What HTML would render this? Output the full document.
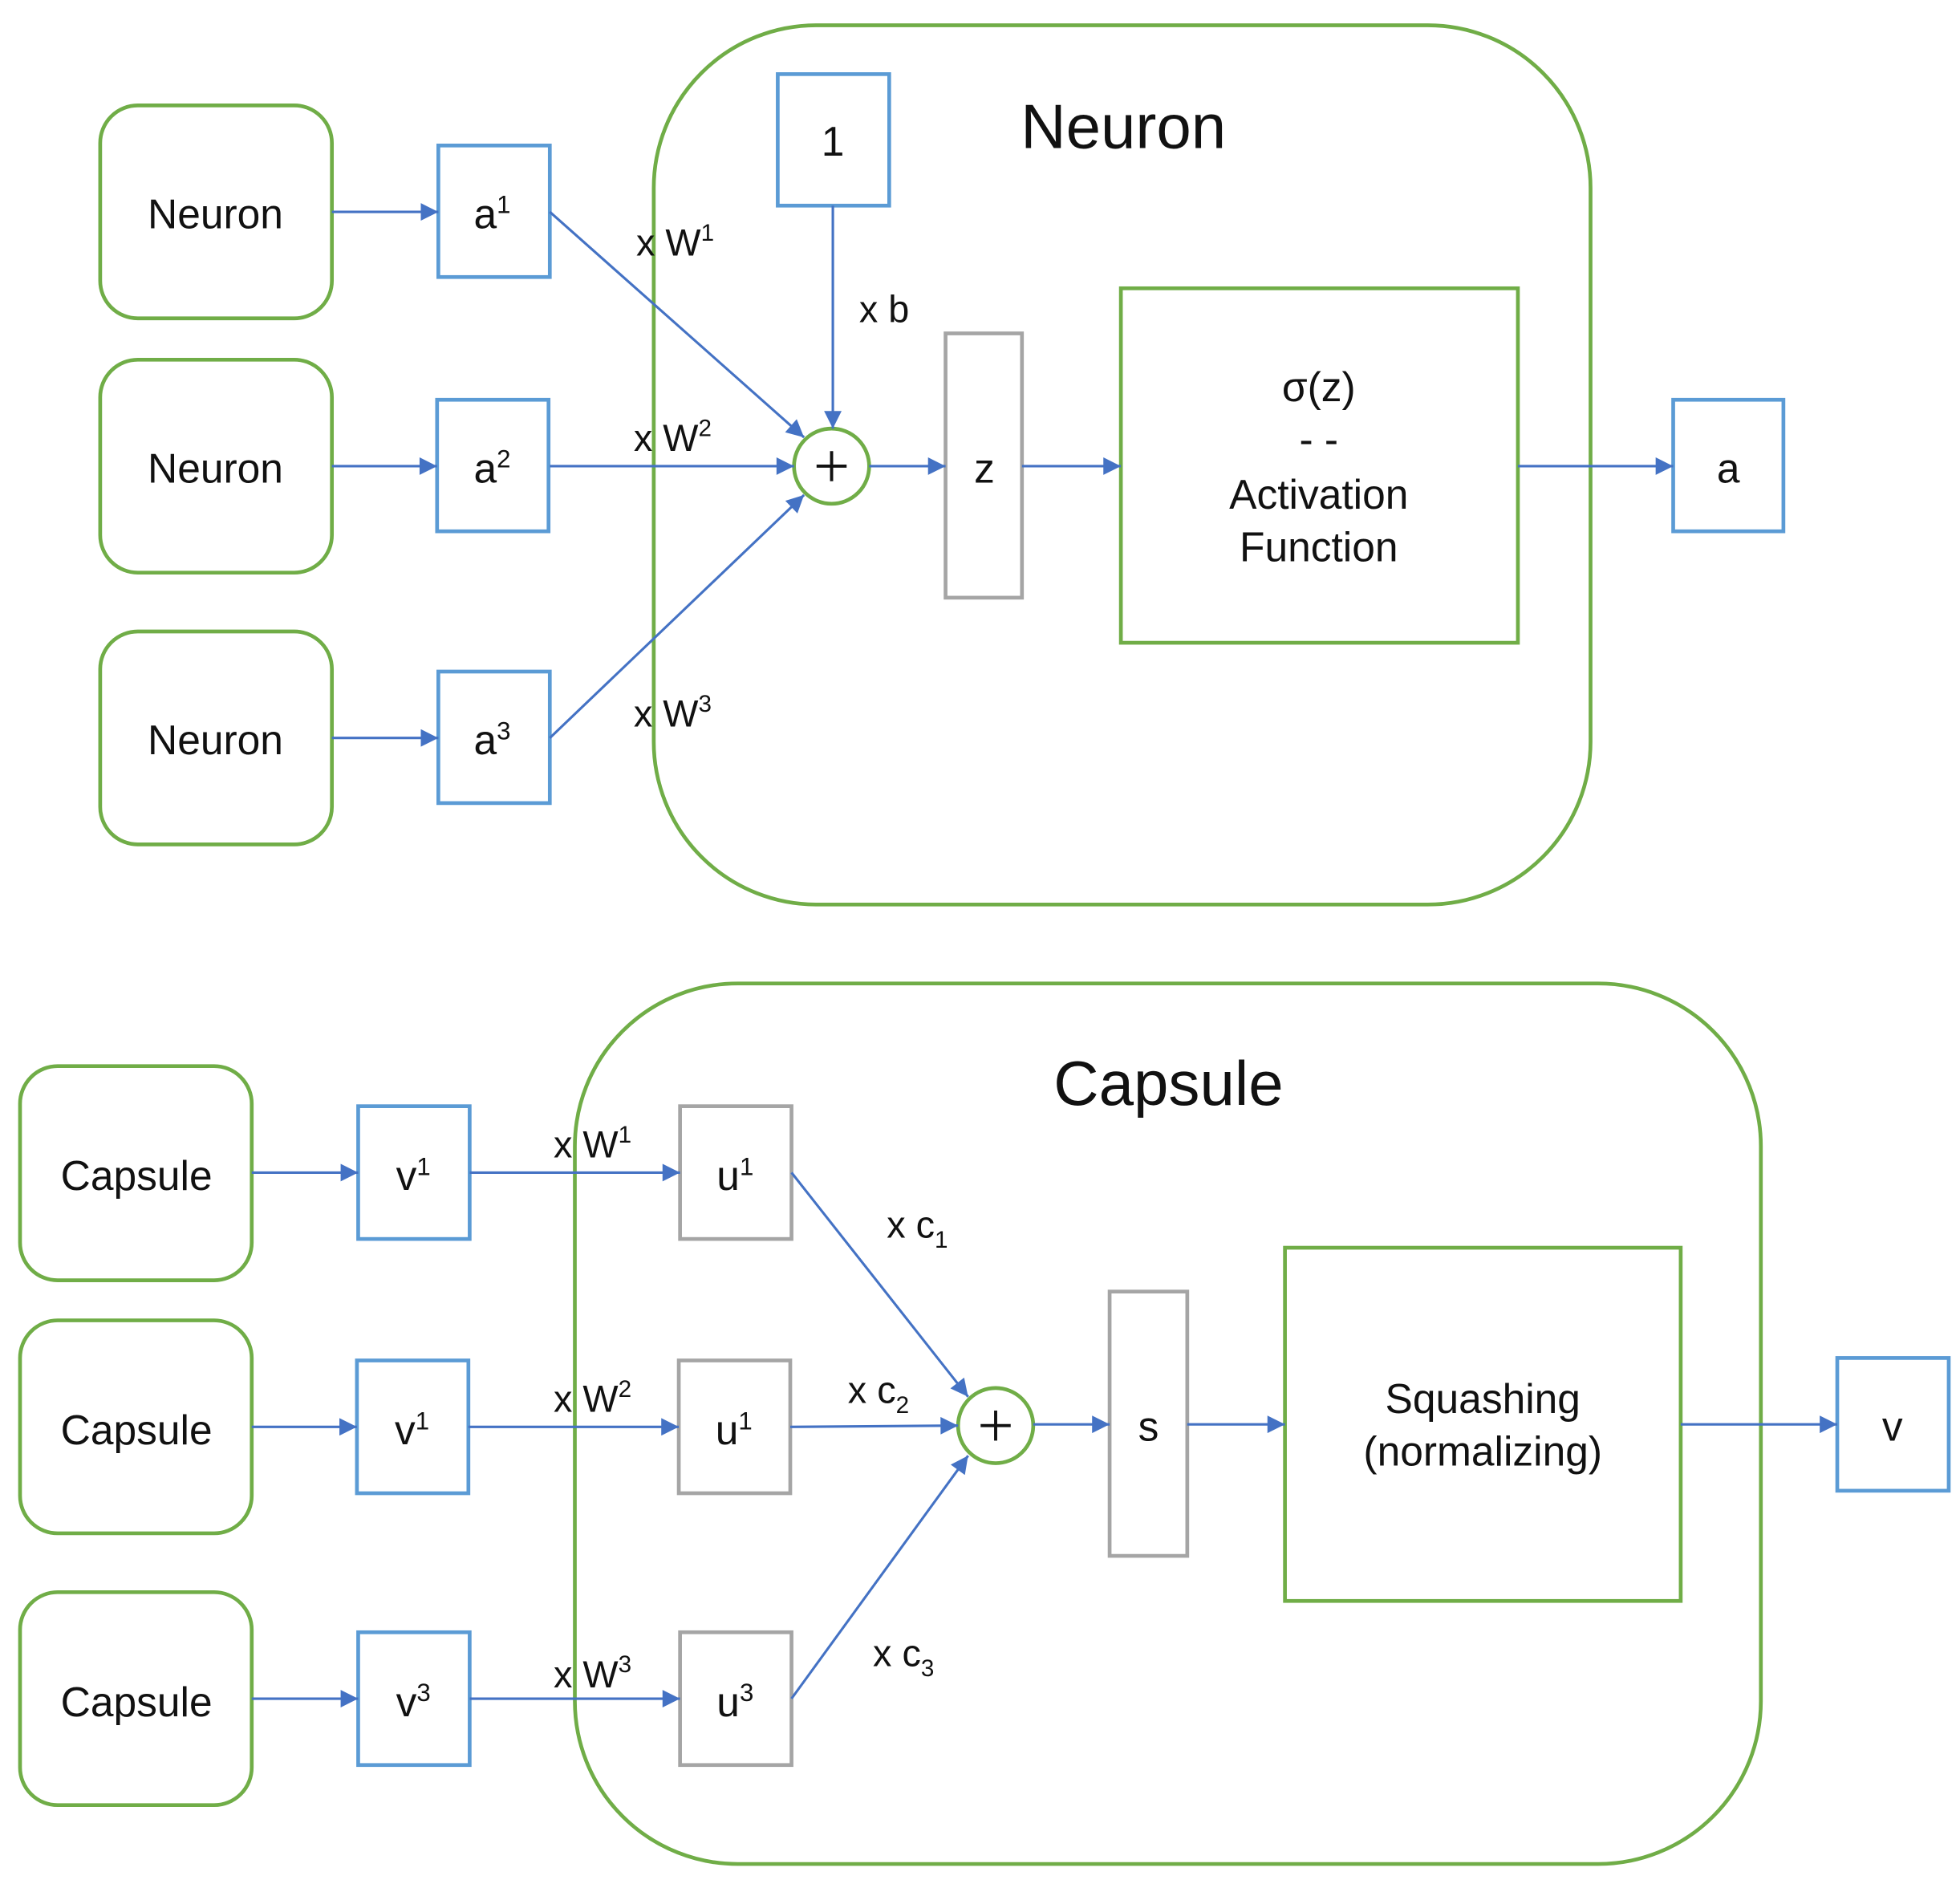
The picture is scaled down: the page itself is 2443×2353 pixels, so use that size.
<!DOCTYPE html>
<html><head><meta charset="utf-8"><style>
html,body{margin:0;padding:0;background:#fff;}
svg{display:block;}
text{font-family:"Liberation Sans","DejaVu Sans",sans-serif;fill:#111;}
</style></head><body>
<svg width="2443" height="2353" viewBox="0 0 1565 1507" xmlns="http://www.w3.org/2000/svg">
<defs>
<marker id="ar" markerWidth="10" markerHeight="10" refX="9" refY="5" orient="auto" markerUnits="userSpaceOnUse">
<path d="M0,0 L10,5 L0,10 z" fill="#4472C4"/></marker>
<marker id="arb" viewBox="0 0 10 10" markerWidth="18" markerHeight="14" refX="10" refY="5" orient="auto" markerUnits="userSpaceOnUse">
<path d="M0,0 L10,5 L0,10 z" fill="#4472C4"/></marker>
</defs>
<g fill="none" stroke-width="3">
<!-- top -->
<rect x="522" y="20" width="748" height="702" rx="130" stroke="#70AD47"/>
<rect x="80" y="84" width="185" height="170" rx="30" stroke="#70AD47"/>
<rect x="80" y="287" width="185" height="170" rx="30" stroke="#70AD47"/>
<rect x="80" y="504" width="185" height="170" rx="30" stroke="#70AD47"/>
<rect x="350" y="116" width="89" height="105" stroke="#5B9BD5"/>
<rect x="349" y="319" width="89" height="105" stroke="#5B9BD5"/>
<rect x="350" y="536" width="89" height="105" stroke="#5B9BD5"/>
<rect x="621" y="59" width="89" height="105" stroke="#5B9BD5"/>
<circle cx="664" cy="372" r="30" stroke="#70AD47"/>
<rect x="755" y="266" width="61" height="211" stroke="#A5A5A5"/>
<rect x="895" y="230" width="317" height="283" stroke="#70AD47"/>
<rect x="1336" y="319" width="88" height="105" stroke="#5B9BD5"/>
<!-- bottom -->
<rect x="459" y="785" width="947" height="703" rx="130" stroke="#70AD47"/>
<rect x="16" y="851" width="185" height="171" rx="30" stroke="#70AD47"/>
<rect x="16" y="1054" width="185" height="170" rx="30" stroke="#70AD47"/>
<rect x="16" y="1271" width="185" height="170" rx="30" stroke="#70AD47"/>
<rect x="286" y="883" width="89" height="106" stroke="#5B9BD5"/>
<rect x="285" y="1086" width="89" height="106" stroke="#5B9BD5"/>
<rect x="286" y="1303" width="89" height="106" stroke="#5B9BD5"/>
<rect x="543" y="883" width="89" height="106" stroke="#A5A5A5"/>
<rect x="542" y="1086" width="89" height="106" stroke="#A5A5A5"/>
<rect x="543" y="1303" width="89" height="106" stroke="#A5A5A5"/>
<circle cx="795" cy="1138" r="30" stroke="#70AD47"/>
<rect x="886" y="1031" width="62" height="211" stroke="#A5A5A5"/>
<rect x="1026" y="996" width="316" height="282" stroke="#70AD47"/>
<rect x="1467" y="1084" width="89" height="106" stroke="#5B9BD5"/>
</g>
<g stroke="#4472C4" stroke-width="2" fill="none" marker-end="url(#arb)">
<line x1="265" y1="169" x2="350" y2="169"/>
<line x1="265" y1="372" x2="349" y2="372"/>
<line x1="265" y1="589" x2="350" y2="589"/>
<line x1="439" y1="169" x2="642" y2="349"/>
<line x1="439" y1="372" x2="634" y2="372"/>
<line x1="439" y1="589" x2="642" y2="395"/>
<line x1="665" y1="164" x2="665" y2="342"/>
<line x1="694" y1="372" x2="755" y2="372"/>
<line x1="816" y1="372" x2="895" y2="372"/>
<line x1="1212" y1="372" x2="1336" y2="372"/>
<line x1="201" y1="936" x2="286" y2="936"/>
<line x1="201" y1="1139" x2="285" y2="1139"/>
<line x1="201" y1="1356" x2="286" y2="1356"/>
<line x1="375" y1="936" x2="543" y2="936"/>
<line x1="374" y1="1139" x2="542" y2="1139"/>
<line x1="375" y1="1356" x2="543" y2="1356"/>
<line x1="632" y1="936" x2="773" y2="1115"/>
<line x1="631" y1="1139" x2="765" y2="1138"/>
<line x1="632" y1="1356" x2="773" y2="1162"/>
<line x1="825" y1="1137" x2="886" y2="1137"/>
<line x1="948" y1="1137" x2="1026" y2="1137"/>
<line x1="1342" y1="1137" x2="1467" y2="1137"/>
</g>
<g stroke="#111" stroke-width="2.5">
<line x1="664" y1="360" x2="664" y2="384"/><line x1="652" y1="372" x2="676" y2="372"/>
<line x1="795" y1="1126" x2="795" y2="1150"/><line x1="783" y1="1138" x2="807" y2="1138"/>
</g>
<g font-size="33" text-anchor="middle">
<text x="172" y="182">Neuron</text>
<text x="172" y="385">Neuron</text>
<text x="172" y="602">Neuron</text>
<text x="393" y="182">a<tspan font-size="20" dy="-12">1</tspan></text>
<text x="393" y="385">a<tspan font-size="20" dy="-12">2</tspan></text>
<text x="393" y="602">a<tspan font-size="20" dy="-12">3</tspan></text>
<text x="665" y="124">1</text>
<text x="786" y="385">z</text>
<text x="1053" y="320">σ(z)</text>
<text x="1053" y="362">- -</text>
<text x="1053" y="406">Activation</text>
<text x="1053" y="448">Function</text>
<text x="1380" y="385">a</text>
<text x="897" y="118" font-size="50">Neuron</text>
<text x="109" y="950">Capsule</text>
<text x="109" y="1153">Capsule</text>
<text x="109" y="1370">Capsule</text>
<text x="330" y="950">v<tspan font-size="20" dy="-12">1</tspan></text>
<text x="329" y="1153">v<tspan font-size="20" dy="-12">1</tspan></text>
<text x="330" y="1370">v<tspan font-size="20" dy="-12">3</tspan></text>
<text x="587" y="950">u<tspan font-size="20" dy="-12">1</tspan></text>
<text x="586" y="1153">u<tspan font-size="20" dy="-12">1</tspan></text>
<text x="587" y="1370">u<tspan font-size="20" dy="-12">3</tspan></text>
<text x="917" y="1150">s</text>
<text x="1184" y="1128">Squashing</text>
<text x="1184" y="1170">(normalizing)</text>
<text x="1511" y="1150">v</text>
<text x="933" y="882" font-size="50">Capsule</text>
</g>
<g font-size="30">
<text x="508" y="204">x W<tspan font-size="19" dy="-12">1</tspan></text>
<text x="686" y="257">x b</text>
<text x="506" y="360">x W<tspan font-size="19" dy="-12">2</tspan></text>
<text x="506" y="580">x W<tspan font-size="19" dy="-12">3</tspan></text>
<text x="442" y="924">x W<tspan font-size="19" dy="-12">1</tspan></text>
<text x="442" y="1127">x W<tspan font-size="19" dy="-12">2</tspan></text>
<text x="442" y="1347">x W<tspan font-size="19" dy="-12">3</tspan></text>
<text x="708" y="988">x c<tspan font-size="19" dy="8">1</tspan></text>
<text x="677" y="1120">x c<tspan font-size="19" dy="8">2</tspan></text>
<text x="697" y="1330">x c<tspan font-size="19" dy="8">3</tspan></text>
</g>
</svg>
</body></html>
